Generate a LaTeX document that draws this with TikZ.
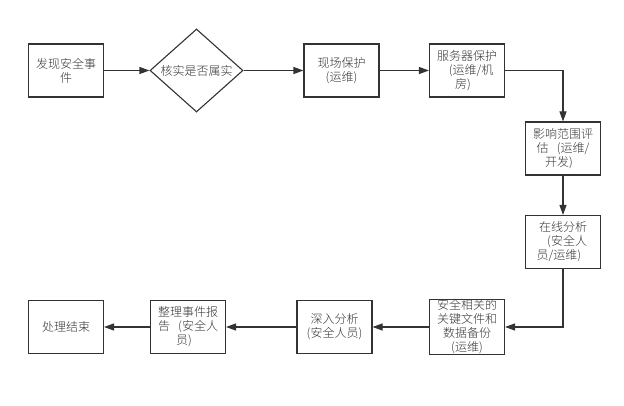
\documentclass[tikz,border=0pt]{standalone}
\usepackage{fontspec}
\setmainfont{Noto Sans CJK SC}[UprightFont=* Light]
\usetikzlibrary{shapes.geometric,arrows.meta}

\definecolor{ink}{HTML}{333333}
\newcommand\lpar{\makebox[12pt][r]{(}}
\newcommand\rpar{\makebox[12pt][l]{)}}

\begin{document}
\begin{tikzpicture}[x=1pt,y=-1pt,
    every node/.style={font=\fontsize{12}{14}\selectfont,text=ink,align=center},
    box/.style={draw=ink,line width=1.1pt,minimum width=75pt,minimum height=53pt,inner sep=0pt},
    arr/.style={draw=ink,line width=1.1pt,-{Triangle[length=10pt,width=7pt]}}]
        \useasboundingbox (0,0) rectangle (624,406);

        \node[box] (found) at (66,70.5) {发现安全事\\件};
        \node[diamond,draw=ink,line width=1.1pt,aspect=1.12,inner sep=0pt,
              minimum width=93pt,minimum height=83pt] (verify) at (196.5,70.5) {核实是否属实};
        \node[box] (scene) at (341.5,70.5) {现场保护\\\lpar 运维\rpar};
        \node[box] (server) at (467,70.5) {服务器保护\\\lpar 运维/机\\房\rpar};
        \node[box] (impact) at (563,148.5) {影响范围评\\估\lpar 运维/\\开发\rpar};
        \node[box] (online) at (563,242) {在线分析\\\lpar 安全人\\员/运维\rpar};
        \node[box] (backup) at (467,327) {安全相关的\\关键文件和\\数据备份\\\lpar 运维\rpar};
        \node[box] (deep) at (334.5,327) {深入分析\\(安全人员)};
        \node[box] (report) at (188,327) {整理事件报\\告\lpar 安全人\\员\rpar};
        \node[box] (done) at (66,327) {处理结束};

        \foreach \a/\b in {found/verify,verify/scene,scene/server,impact/online,
                           backup/deep,deep/report,report/done} {
          \draw[arr] (\a) -- (\b);
        }
        \draw[arr] (server) -| (impact);
        \draw[arr] (online) |- (backup);
      \end{tikzpicture}
\end{document}
